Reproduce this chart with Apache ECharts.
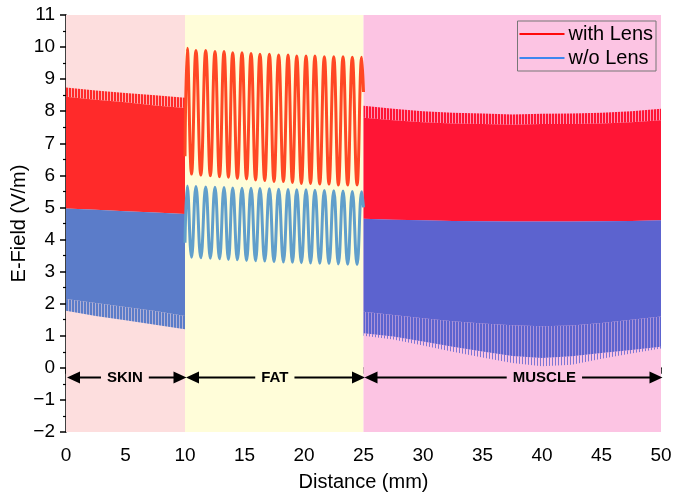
<!DOCTYPE html>
<html><head><meta charset="utf-8">
<script src="https://cdn.jsdelivr.net/npm/echarts/dist/echarts.min.js"></script>
<style>html,body{margin:0;padding:0;background:#fff;overflow:hidden}#c{width:673px;height:493px}</style>
</head><body><div id="c"></div>
<script>
// ---- Regions ----
const regionNames = ['SKIN', 'FAT', 'MUSCLE'];
const regionStart = [0, 10, 25];
const regionEnd = [10, 25, 50];
const regionLabelX = [4.95, 17.55, 40.2];
const arrowY = -0.3;

// ---- SKIN (dense oscillation, envelopes) ----
const skinX = [0, 2.5, 5, 7.5, 10];
const skinRedTop = [8.74, 8.65, 8.57, 8.5, 8.42];
const skinRedSolidTop = [8.45, 8.36, 8.28, 8.18, 8.1];
const skinBlueTop = [4.97, 4.93, 4.88, 4.84, 4.8];
const skinBlueSolidBottom = [2.15, 2.02, 1.9, 1.77, 1.62];
const skinBlueBottom = [1.78, 1.62, 1.48, 1.34, 1.2];

// ---- FAT (slow oscillation: peaks and troughs) ----
const fatPeakX = [10.19, 10.92, 11.74, 12.52, 13.28, 14.01, 14.79, 15.55, 16.30, 17.09, 17.87, 18.66, 19.39, 20.17, 20.92, 21.71, 22.50, 23.28, 24.06, 24.85];
const fatTroughX = [10.55, 11.33, 12.13, 12.90, 13.65, 14.40, 15.17, 15.93, 16.70, 17.48, 18.27, 19.03, 19.78, 20.55, 21.32, 22.10, 22.89, 23.67, 24.46];
const fatRedPeak = [9.96, 9.89, 9.89, 9.86, 9.86, 9.82, 9.82, 9.80, 9.78, 9.78, 9.75, 9.75, 9.72, 9.72, 9.72, 9.70, 9.70, 9.70, 9.68, 9.68];
const fatRedTrough = [6.04, 6.01, 5.99, 5.96, 5.94, 5.91, 5.89, 5.86, 5.84, 5.81, 5.81, 5.78, 5.75, 5.75, 5.73, 5.73, 5.70, 5.70, 5.70];
const fatBluePeak = [5.67, 5.65, 5.64, 5.63, 5.62, 5.61, 5.60, 5.60, 5.59, 5.58, 5.57, 5.56, 5.55, 5.55, 5.54, 5.53, 5.52, 5.51, 5.50, 5.49];
const fatBlueTrough = [3.45, 3.43, 3.42, 3.40, 3.38, 3.37, 3.35, 3.34, 3.33, 3.31, 3.30, 3.29, 3.28, 3.27, 3.26, 3.25, 3.24, 3.23, 3.22];
const fatRedEnds = [6.6, 8.6];
const fatBlueEnds = [3.9, 5.0];

// ---- MUSCLE (dense oscillation, envelopes) ----
const muscleX = [25, 27.5, 30, 32.5, 35, 37.5, 40, 42.5, 45, 47.5, 50];
const muscleRedTop = [8.17, 8.08, 8.0, 7.95, 7.93, 7.9, 7.92, 7.93, 7.95, 8.0, 8.08];
const muscleRedSolidTop = [7.8, 7.72, 7.66, 7.62, 7.6, 7.58, 7.6, 7.6, 7.62, 7.66, 7.72];
const muscleBlueTop = [4.65, 4.62, 4.6, 4.58, 4.57, 4.56, 4.56, 4.56, 4.57, 4.58, 4.6];
const muscleBlueSolidBottom = [1.75, 1.65, 1.55, 1.45, 1.38, 1.33, 1.3, 1.32, 1.4, 1.5, 1.6];
const muscleBlueEdge = [1.08, 0.98, 0.82, 0.66, 0.51, 0.37, 0.31, 0.36, 0.46, 0.56, 0.66];
const muscleBlueBottom = [1.0, 0.88, 0.7, 0.5, 0.32, 0.15, 0.05, 0.1, 0.28, 0.45, 0.6];

// ---- Axes ----
const xTicks = {min: 0, max: 50, interval: 5};
const yTicks = {min: -2, max: 11, interval: 1};

const bgColors = ['#fddede', '#fffdd9', '#fcc4e3'];
const FONT = '"Liberation Sans", Arial, sans-serif';

// vertical-stripe texture for the fringes of the dense oscillations
function stripes(color, onW, offW, onAlpha, offAlpha) {
  const c = document.createElement('canvas');
  c.width = onW + offW; c.height = 4;
  const g = c.getContext('2d');
  g.fillStyle = color;
  g.globalAlpha = onAlpha; g.fillRect(0, 0, onW, 4);
  g.globalAlpha = offAlpha; g.fillRect(onW, 0, offW, 4);
  return {image: c, repeat: 'repeat'};
}

function band(name, x, lo, hi, fill, z) {
  return {
    type: 'custom', name: name, silent: true, z: z,
    data: [[x[0], lo[0]]],
    renderItem: function (params, api) {
      const up = x.map((v, i) => api.coord([v, hi[i]]));
      const dn = x.map((v, i) => api.coord([v, lo[i]])).reverse();
      return {type: 'polygon', shape: {points: up.concat(dn)}, style: {fill: fill}};
    }
  };
}

function fatLine(peakX, troughX, peaks, troughs, ends) {
  const pts = [[regionStart[1], ends[0]]];
  for (let i = 0; i < peakX.length; i++) {
    pts.push([peakX[i], peaks[i]]);
    if (i < troughX.length) pts.push([troughX[i], troughs[i]]);
  }
  pts.push([regionEnd[1], ends[1]]);
  return pts;
}

const SR = '#ff2a2a', SB = '#5b7cc9', MR = '#ff1535', MB = '#5c63cf';
const HEAD_L = 13, HEAD_W = 12;

const series = [
  {
    type: 'line', name: 'bg', data: [], silent: true, z: 0,
    markArea: {silent: true, label: {show: false}, data: regionStart.map((s, i) => [{xAxis: s, itemStyle: {color: bgColors[i]}}, {xAxis: regionEnd[i]}])}
  },
  // skin
  band('sr', skinX, skinBlueTop, skinRedSolidTop, SR, 2),
  band('sr2', skinX, skinRedSolidTop, skinRedTop, stripes(SR, 2, 1, 1, 0.25), 2),
  band('sb', skinX, skinBlueSolidBottom, skinBlueTop, SB, 3),
  band('sb2', skinX, skinBlueBottom, skinBlueSolidBottom, stripes(SB, 2, 1, 1, 0.45), 3),
  // muscle
  band('mr', muscleX, muscleBlueTop, muscleRedSolidTop, MR, 2),
  band('mr2', muscleX, muscleRedSolidTop, muscleRedTop, stripes(MR, 2, 1, 1, 0.25), 2),
  band('mb', muscleX, muscleBlueSolidBottom, muscleBlueTop, MB, 3),
  band('mb2', muscleX, muscleBlueEdge, muscleBlueSolidBottom, stripes(MB, 2, 1, 1, 0.5), 3),
  band('mb3', muscleX, muscleBlueBottom, muscleBlueEdge, stripes(MB, 1, 2, 0.8, 0), 3),
  // fat
  {
    type: 'line', name: 'with Lens', z: 4, smooth: 0.45, symbol: 'none', silent: true,
    lineStyle: {color: '#ff4824', width: 3}, itemStyle: {color: '#ff4824'},
    data: fatLine(fatPeakX, fatTroughX, fatRedPeak, fatRedTrough, fatRedEnds)
  },
  {
    type: 'line', name: 'w/o Lens', z: 4, smooth: 0.45, symbol: 'none', silent: true,
    lineStyle: {color: '#619fcb', width: 3}, itemStyle: {color: '#619fcb'},
    data: fatLine(fatPeakX, fatTroughX, fatBluePeak, fatBlueTrough, fatBlueEnds)
  },
  // double-headed arrows with region names
  {
    type: 'custom', name: 'arrows', silent: true, z: 20, zlevel: 1, clip: false,
    data: regionStart.map((s, i) => [s, regionEnd[i], arrowY, regionLabelX[i], i]),
    encode: {x: [0, 1], y: 2},
    renderItem: function (params, api) {
      const i = api.value(4);
      const a = api.coord([api.value(0), api.value(2)]);
      const b = api.coord([api.value(1), api.value(2)]);
      const c = api.coord([api.value(3), api.value(2)]);
      const y = a[1];
      const x0 = a[0] + 1, x1 = b[0] + 1.5;
      return {
        type: 'group',
        children: [
          {type: 'line', z2: 1, shape: {x1: x0 + HEAD_L - 1, y1: y, x2: x1 - HEAD_L + 1, y2: y},
            style: {stroke: '#000', lineWidth: 2}},
          {type: 'text', z2: 3, x: c[0], y: y,
            style: {text: regionNames[i], fill: '#000', font: 'bold 15px ' + FONT, align: 'center', verticalAlign: 'middle',
              backgroundColor: bgColors[i], padding: [2, 6]}},
          {type: 'polygon', z2: 4, shape: {points: [[x0, y], [x0 + HEAD_L, y - HEAD_W / 2], [x0 + HEAD_L, y + HEAD_W / 2]]},
            style: {fill: '#000'}},
          {type: 'polygon', z2: 4, shape: {points: [[x1, y], [x1 - HEAD_L, y - HEAD_W / 2], [x1 - HEAD_L, y + HEAD_W / 2]]},
            style: {fill: '#000'}}
        ]
      };
    }
  }
];

const chart = echarts.init(document.getElementById('c'), null, {renderer: 'canvas'});
chart.setOption({
  animation: false,
  backgroundColor: '#fff',
  textStyle: {fontFamily: FONT},
  grid: {left: 66, right: 12, top: 15, bottom: 61, containLabel: false, outerBoundsMode: 'none'},
  legend: {
    data: [
      {name: 'with Lens', itemStyle: {color: '#ff0a0a'}},
      {name: 'w/o Lens', itemStyle: {color: '#3d87ef'}}
    ],
    icon: 'rect', itemWidth: 45, itemHeight: 2, itemGap: 4,
    orient: 'vertical', right: 17, top: 21,
    padding: [3, 3, 3, 2], borderColor: '#777', borderWidth: 1,
    textStyle: {fontFamily: FONT, fontSize: 20, color: '#000', padding: [0, 0, 0, -1]},
    selectedMode: false
  },
  xAxis: {
    type: 'value', min: xTicks.min, max: xTicks.max, interval: xTicks.interval,
    name: 'Distance (mm)', nameLocation: 'middle', nameGap: 40, nameMoveOverlap: false,
    nameTextStyle: {fontFamily: FONT, fontSize: 20, color: '#000'},
    axisLine: {lineStyle: {color: '#000', width: 1.5}},
    axisTick: {length: 6, lineStyle: {color: '#000', width: 1.5}},
    minorTick: {show: true, splitNumber: 2, length: 3, lineStyle: {color: '#000', width: 1.2}},
    axisLabel: {fontFamily: FONT, fontSize: 19, color: '#000', margin: 14},
    splitLine: {show: false}
  },
  yAxis: {
    type: 'value', min: yTicks.min, max: yTicks.max, interval: yTicks.interval,
    name: 'E-Field (V/m)', nameLocation: 'middle', nameGap: 37, nameMoveOverlap: false,
    nameTextStyle: {fontFamily: FONT, fontSize: 20, color: '#000'},
    axisLine: {show: true, lineStyle: {color: '#000', width: 1.5}},
    axisTick: {show: true, length: 6, lineStyle: {color: '#000', width: 1.5}},
    minorTick: {show: true, splitNumber: 2, length: 3, lineStyle: {color: '#000', width: 1.2}},
    axisLabel: {fontFamily: FONT, fontSize: 19, color: '#000', margin: 11,
      formatter: v => (v < 0 ? '\u2212' + (-v) : String(v))},
    splitLine: {show: false}
  },
  series: series
});
</script>
</body></html>
